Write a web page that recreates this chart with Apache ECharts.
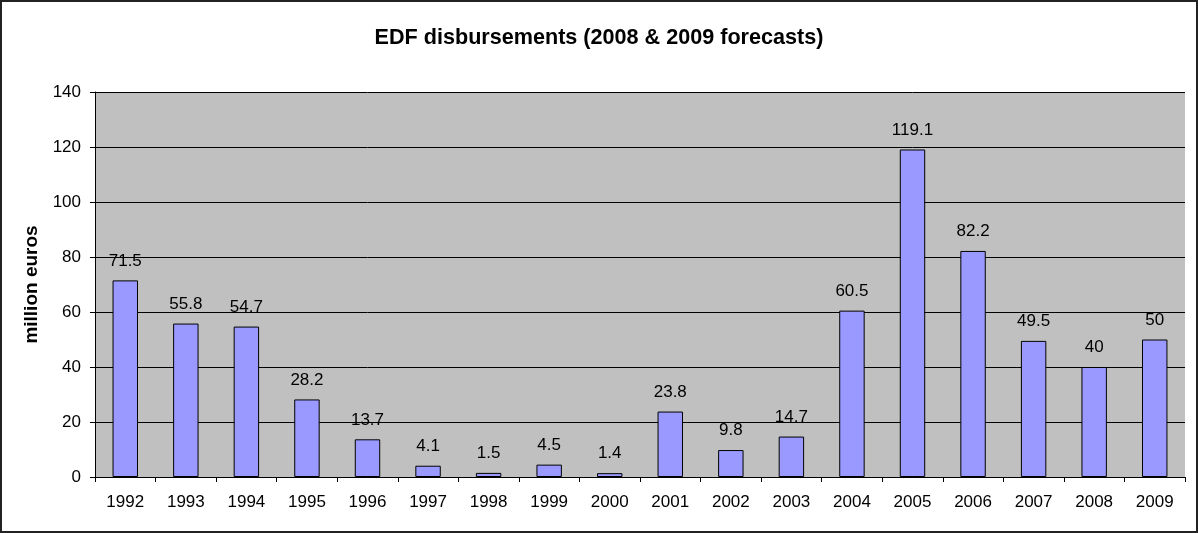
<!DOCTYPE html>
<html>
<head>
<meta charset="utf-8">
<script src="https://cdn.jsdelivr.net/npm/echarts@6/dist/echarts.min.js"></script>
<style>
  html, body { margin: 0; padding: 0; background: #fff; }
  #chart { width: 1198px; height: 533px; box-sizing: border-box; border: 2px solid #222; }
</style>
</head>
<body>
<div id="chart"></div>
<script>
const years = ['1992', '1993', '1994', '1995', '1996', '1997', '1998', '1999', '2000',
  '2001', '2002', '2003', '2004', '2005', '2006', '2007', '2008', '2009']
const disbursements = [71.5, 55.8, 54.7, 28.2, 13.7, 4.1, 1.5, 4.5, 1.4,
  23.8, 9.8, 14.7, 60.5, 119.1, 82.2, 49.5, 40, 50]
const yTicks = [0, 20, 40, 60, 80, 100, 120, 140]

const chart = echarts.init(document.getElementById('chart'))

const font = 'Liberation Sans, Arial, sans-serif'

chart.setOption({
  animation: false,
  textStyle: { fontFamily: font },
  title: {
    text: 'EDF disbursements (2008 & 2009 forecasts)',
    left: 'center',
    top: 20,
    textStyle: { fontSize: 21.6, fontWeight: 'bold', color: '#000', fontFamily: font }
  },
  grid: {
    left: 93,
    right: 11,
    top: 90,
    bottom: 54,
    show: true,
    backgroundColor: '#c0c0c0',
    borderWidth: 0
  },
  xAxis: {
    type: 'category',
    data: years,
    axisLine: { lineStyle: { color: '#000', width: 1 } },
    axisTick: { show: true, length: 5, lineStyle: { color: '#000' } },
    axisLabel: { color: '#000', fontSize: 17, margin: 17, fontFamily: font }
  },
  yAxis: {
    type: 'value',
    min: yTicks[0],
    max: yTicks[yTicks.length - 1],
    interval: 20,
    name: 'million euros',
    nameLocation: 'middle',
    nameGap: 50,
    nameTextStyle: { fontSize: 19, fontWeight: 'bold', color: '#000', fontFamily: font },
    axisLine: { show: true, lineStyle: { color: '#000', width: 1 } },
    axisTick: { show: true, length: 5, lineStyle: { color: '#000' } },
    axisLabel: { color: '#000', fontSize: 17, margin: 14, fontFamily: font },
    splitLine: { show: true, lineStyle: { color: '#000', width: 1 } }
  },
  series: [{
    type: 'bar',
    data: disbursements,
    barWidth: '42%',
    itemStyle: { color: '#9999ff', borderColor: '#000', borderWidth: 1 },
    label: {
      show: true,
      position: 'top',
      distance: 11,
      color: '#000',
      fontSize: 17,
      fontFamily: font
    }
  }]
})
</script>
</body>
</html>
